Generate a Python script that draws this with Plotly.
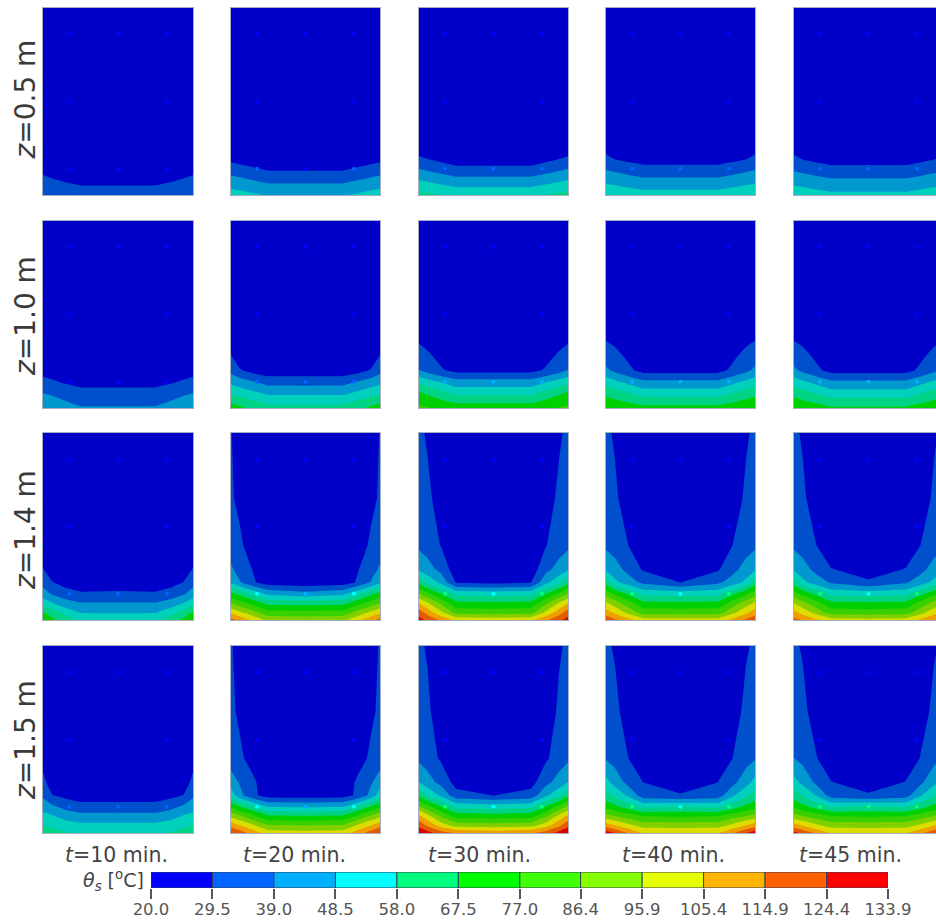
import numpy as np
import plotly.graph_objects as go

W, H = 936, 920
levels = [20.0, 29.5, 39.0, 48.5, 58.0, 67.5, 77.0, 86.4, 95.9, 105.4, 114.9, 124.4, 133.9]
level_labels = ["20.0", "29.5", "39.0", "48.5", "58.0", "67.5", "77.0", "86.4", "95.9", "105.4", "114.9", "124.4", "133.9"]
bar_colors = ["#0000FF", "#0064FF", "#00B0FF", "#00FFFF", "#00FF80", "#00FF00", "#40FF00",
              "#88FF00", "#E4FF00", "#FFB400", "#FF6000", "#FF0000"]
panel_colors = ["#0000C8", "#0050CE", "#0098CE", "#00D0BC", "#00D484", "#00D000", "#38D000",
                "#80D000", "#DCDC00", "#EEA000", "#E45A00", "#DC0000"]
times = ["10", "20", "30", "40", "45"]
heights = ["0.5", "1.0", "1.4", "1.5"]

# half-section nodes (mirrored about the centre line)
x_half = [0, .06, .15, .25, .5]
y_nodes = [0, .04, .09, .14, .20, .27, .40, .65, 1]
sensor_x = [.175, .5, .825, .175, .825, .175, .5, .825]
sensor_y = [.86, .86, .86, .5, .5, .14, .14, .14]

z05_t10 = [[37, 35.8, 33.8, 32, 32], [33, 32.3, 31.1, 30.2, 30.2], [30.3, 29.5, 28.2, 27, 27], [28, 27.3, 26.2, 25, 25],
           [24, 24, 23, 23, 23], [22, 22, 22, 22, 22], [21, 21, 21, 21, 21], [21, 21, 21, 21, 21], [20.5, 20.5, 20.5, 20.5, 20.5]]
z05_t20 = [[53, 51.7, 49.8, 47.7, 47.7], [47.5, 46.2, 44.2, 42, 42], [41, 39.6, 37.4, 35, 35], [34, 32.6, 30.5, 28.1, 28.1],
           [26, 25, 23.3, 21.5, 21.5], [22, 22, 22, 21, 21], [21, 21, 21, 21, 21], [21, 21, 21, 21, 21], [20.5, 20.5, 20.5, 20.5, 20.5]]
z05_t30 = [[61.5, 59.9, 57.6, 55, 55], [54.8, 53.3, 51.1, 48.7, 48.7], [46.9, 45.3, 42.9, 40.3, 40.3], [38.9, 37.2, 34.8, 32, 32],
           [30.2, 28.5, 25.9, 23, 23], [24, 23, 22, 22, 22], [21, 21, 21, 21, 21], [21, 21, 21, 21, 21], [20.5, 20.5, 20.5, 20.5, 20.5]]
z05_t40 = [[56, 55.3, 54.2, 53, 53], [51.5, 50.3, 48.5, 46.5, 46.5], [44, 42.9, 41.3, 39.5, 39.5], [38.3, 36.9, 34.7, 32.3, 32.3],
           [31.5, 28, 26, 24.5, 24.5], [24, 23, 22, 22, 22], [22, 21, 21, 21, 21], [21, 21, 21, 21, 21], [20.5, 20.5, 20.5, 20.5, 20.5]]
z05_t45 = [[54, 53.2, 51.9, 50.5, 50.5], [49.7, 48.7, 47.3, 45.7, 45.7], [43, 42, 40.5, 38.9, 38.9], [37.5, 36.2, 34.2, 32, 32],
           [31, 28, 26, 24.5, 24.5], [24, 23, 22, 22, 22], [22, 21, 21, 21, 21], [21, 21, 21, 21, 21], [20.5, 20.5, 20.5, 20.5, 20.5]]

z10_t10 = [[46, 44.6, 42.4, 40, 40], [43.6, 41.6, 38.7, 35.4, 35.4], [37.6, 36.4, 34.5, 32.4, 32.4], [32.5, 30.7, 28.1, 25.2, 25.2],
           [26, 25.3, 24.2, 23, 23], [23, 23, 22, 22, 22], [21, 21, 21, 21, 21], [21, 21, 21, 21, 21], [20.5, 20.5, 20.5, 20.5, 20.5]]
z10_t20 = [[72, 69.4, 65.4, 61, 61], [65, 62.3, 58.3, 53.8, 53.8], [54, 51.8, 48.5, 44.8, 44.8], [46, 43.4, 39.4, 35, 34.7],
           [36, 30.5, 26, 24, 24], [30.5, 24, 23, 22, 22], [23, 22, 21, 21, 21], [21, 21, 21, 21, 21], [20.5, 20.5, 20.5, 20.5, 20.5]]
z10_t30 = [[79, 77.5, 75.3, 72.8, 72.8], [74, 71.7, 68.2, 64.3, 64.3], [67.5, 64, 58.8, 53, 53], [55, 52, 47.6, 42.7, 42.7],
           [39.5, 35.5, 30.5, 27, 27], [34, 31.5, 27, 23, 23], [26, 24, 22, 21, 21], [22, 21, 21, 21, 21], [21, 20.5, 20.5, 20.5, 20.5]]
z10_t40 = [[76.5, 75, 72.8, 70.3, 70.3], [70.5, 68.5, 65.6, 62.3, 62.3], [62.9, 60.2, 56, 51.5, 51.5], [53.5, 50.5, 46, 41.1, 41.1],
           [41, 37, 31.5, 26.5, 26.5], [35, 33, 28, 23, 23], [27, 25, 22, 21, 21], [22, 22, 21, 21, 21], [21, 20.5, 20.5, 20.5, 20.5]]
z10_t45 = [[76, 74.3, 71.8, 69, 69], [70, 67.7, 64.4, 60.6, 60.6], [62.5, 59.6, 55.3, 50.5, 50.5], [53, 50, 45.5, 40.5, 40.5],
           [41, 37, 31.5, 26.5, 26.5], [35, 33, 28, 23, 23], [27, 25, 22, 21, 21], [22, 22, 21, 21, 21], [21, 20.5, 20.5, 20.5, 20.5]]

z14_t10 = [[72, 69.5, 63, 56, 54], [68.5, 63, 54, 48, 47.8], [54, 49, 43, 39.5, 39.7], [43.3, 38, 33.5, 30.7, 31],
           [36, 30, 26, 24, 25], [30, 25, 23, 22, 22], [24, 23, 21, 21, 21], [21, 21, 21, 21, 21], [20.5, 20.5, 20.5, 20.5, 20.5]]
z14_t20 = [[118, 112, 103, 93, 92], [103.5, 98, 89.7, 80.5, 80.2], [86.4, 81.1, 73.3, 64.5, 64], [71, 65, 56, 46, 42],
           [47.5, 40, 30.5, 25, 24], [41, 34, 29, 22.5, 22], [32, 31, 25, 22, 21], [30.5, 27.5, 22, 21, 20.5], [30, 24, 21, 20.5, 20]]
z14_t30 = [[128, 122, 113, 103, 102], [119.6, 110.8, 97.6, 83, 82], [105.4, 96.9, 84.2, 70, 69.5], [86.4, 78.9, 67.6, 55, 54],
           [65, 55, 46, 29, 27], [47, 43, 36, 24, 22], [37, 34, 29, 22, 21], [33, 31, 26, 21, 20.5], [31, 28.5, 22, 21, 20.5]]
z14_t40 = [[122, 116.7, 108.8, 100, 100], [110, 103.3, 93.2, 82, 82], [98, 91.3, 81.2, 70, 69.5], [82, 75.5, 65.8, 55, 54],
           [64, 51, 43.5, 37, 29.5], [47, 43, 36, 28.5, 23], [37, 34.5, 29.5, 22, 21], [32, 31, 25, 21, 20.5], [31, 28.5, 22, 21, 20.5]]
z14_t45 = [[118, 113.7, 107.2, 100, 99], [108, 101.8, 92.4, 82, 81], [96, 89.8, 80.4, 70, 69], [80, 74, 65, 55, 54],
           [63, 51, 44, 38, 31], [47, 43, 36, 30, 25], [37, 34.5, 29.5, 22, 21], [32, 31, 25, 21, 20.5], [31, 28.5, 22, 21, 20.5]]

z15_t10 = [[64, 62, 58.5, 57.5, 57], [58.5, 56, 53, 51, 51], [52, 49.5, 45, 42.5, 42.3], [44, 41, 36, 32.6, 32.6],
           [37.5, 30, 27, 25.5, 25.5], [32, 25, 23, 22, 22], [26, 23, 21, 21, 21], [21, 21, 21, 21, 21], [20.5, 20.5, 20.5, 20.5, 20.5]]
z15_t20 = [[125, 119.2, 110.6, 101, 100], [111.7, 105.9, 97.2, 87.5, 87], [94, 88, 79, 69, 68.5], [75, 68.5, 58.8, 48, 47.5],
           [54, 42, 31, 26, 25], [44, 38, 31, 24, 22], [34, 31, 26, 22, 21], [31, 28, 22, 21, 20.5], [30.5, 25, 21, 20.5, 20]]
z15_t30 = [[133, 128, 119, 114, 112], [122, 113, 101, 92, 91], [108, 99, 85, 73, 72], [88, 80, 68, 56, 54],
           [66, 56, 47, 33, 29.5], [49, 43, 36, 26, 23], [37, 34, 28, 22, 21], [32, 31, 24, 21, 20.5], [31, 28.5, 22, 21, 20.5]]
z15_t40 = [[130, 124, 114, 105, 104], [111, 106, 98.8, 92, 92], [90, 86.8, 82.4, 77, 76], [74, 70, 63, 56, 58],
           [62, 56, 47, 34, 30.5], [51.5, 45, 36, 29.5, 24], [38, 35, 29.5, 22, 21], [33, 32, 25, 21, 20.5], [31, 28.5, 22, 21, 20.5]]
z15_t45 = [[127, 122, 113, 105, 104], [110, 105, 98, 92, 92], [90, 86.8, 82, 77, 76], [75, 70.5, 64, 57, 59],
           [63, 57, 48, 35, 31], [52, 46, 37, 30, 24], [39, 36, 30, 22, 21], [33, 32, 25, 21, 20.5], [31, 28.5, 22, 21, 20.5]]

panels = [
    [z05_t10, z05_t20, z05_t30, z05_t40, z05_t45],
    [z10_t10, z10_t20, z10_t30, z10_t40, z10_t45],
    [z14_t10, z14_t20, z14_t30, z14_t40, z14_t45],
    [z15_t10, z15_t20, z15_t30, z15_t40, z15_t45],
]

# pixel geometry of the panels in the 936x920 picture
col_px = [(43, 193), (231, 380), (419, 568), (606, 755), (794, 943)]
row_px = [(8, 195), (221, 408), (433, 620), (646, 833)]
bar_px = (151, 888, 872, 888)
TEXT = "#555555"

x_full = x_half + [1 - v for v in x_half[-2::-1]]


def stepped(colors):
    out = []
    n = len(colors)
    for i, c in enumerate(colors):
        out += [[i / n, c], [(i + 1) / n, c]]
    return out


def bright_colour(v):
    i = int(np.clip(np.searchsorted(levels, v) - 1, 0, 11))
    return bar_colors[i]


fig = go.Figure(layout=dict(template="none"))
n = 0
for r, row in enumerate(panels):
    for c, half in enumerate(row):
        n += 1
        suffix = "" if n == 1 else str(n)
        z = np.array([h + h[-2::-1] for h in half], dtype=float)
        fig.add_trace(go.Contour(
            x=x_full, y=y_nodes, z=z, xaxis="x" + suffix, yaxis="y" + suffix,
            autocontour=False, zmin=levels[0], zmax=levels[-1],
            contours=dict(start=levels[0], end=levels[-1], size=(levels[-1] - levels[0]) / 12,
                          coloring="fill", showlines=False),
            line=dict(width=0, smoothing=0), colorscale=stepped(panel_colors), showscale=False, hoverinfo="skip",
        ))
        vals = []
        for sx, sy in zip(sensor_x, sensor_y):
            iy = int(np.argmin(np.abs(np.array(y_nodes) - sy)))
            vals.append(float(np.interp(sx, x_full, z[iy])))
        fig.add_trace(go.Scatter(
            x=sensor_x, y=sensor_y, mode="markers", xaxis="x" + suffix, yaxis="y" + suffix,
            marker=dict(size=4, color=[bright_colour(v) for v in vals], line=dict(width=0)),
            hoverinfo="skip", showlegend=False,
        ))
        x0, x1 = col_px[c]
        y0, y1 = row_px[r]
        xmax = min(1.0, (W - x0) / (x1 - x0))
        common = dict(showticklabels=False, ticks="", showgrid=False, zeroline=False, automargin=False,
                      showline=True, mirror=True, linecolor="#A4AEC0", linewidth=1)
        fig.update_layout(**{
            "xaxis" + suffix: dict(domain=[x0 / W, min(x1, W) / W], range=[0, xmax], anchor="y" + suffix, **common),
            "yaxis" + suffix: dict(domain=[1 - y1 / H, 1 - y0 / H], range=[0, 1], anchor="x" + suffix, **common),
        })

# colour bar, drawn as stacked bars between the level values
fig.add_trace(go.Bar(
    y=[0] * 12, x=np.diff(levels), base=levels[:-1], orientation="h", width=1,
    marker=dict(color=bar_colors, line=dict(color="#34405A", width=1)),
    xaxis="x21", yaxis="y21", hoverinfo="skip", showlegend=False,
))
fig.update_layout(
    barmode="overlay",
    xaxis21=dict(domain=[bar_px[0] / W, bar_px[1] / W], range=[levels[0], levels[-1]], anchor="y21",
                 tickmode="array", tickvals=levels, ticktext=level_labels, ticks="outside", ticklen=10,
                 ticklabelstandoff=-4,
                 tickwidth=2, tickcolor="#555566", tickfont=dict(size=16.5, color=TEXT, family="DejaVu Sans"),
                 showgrid=False, zeroline=False, showline=False, automargin=False),
    yaxis21=dict(domain=[1 - bar_px[3] / H, 1 - bar_px[2] / H], range=[-.5, .5], anchor="x21",
                 showticklabels=False, ticks="", showgrid=False, zeroline=False, automargin=False),
)

annotations = []
label_y = [99.5, 316, 530, 740]
for ly, h in zip(label_y, heights):
    annotations.append(dict(
        x=25 / W, y=1 - ly / H, xref="paper", yref="paper",
        text=f"<i>z</i>={h} m", textangle=-90, showarrow=False, xanchor="center", yanchor="middle",
        font=dict(size=28, color="#3A3A3A", family="DejaVu Sans"),
    ))
time_x = [116, 294, 480, 673, 850]
for tx, t in zip(time_x, times):
    annotations.append(dict(
        x=tx / W, y=1 - 855 / H, xref="paper", yref="paper", text=f"<i>t</i>={t} min.", showarrow=False,
        xanchor="center", yanchor="middle", font=dict(size=20.5, color="#444444", family="DejaVu Sans"),
    ))
annotations.append(dict(
    x=146 / W, y=1 - 880 / H, xref="paper", yref="paper", text="<i>θ<sub>s</sub></i> [<sup>o</sup>C]",
    showarrow=False, xanchor="right", yanchor="middle",
    font=dict(size=19, color="#444444", family="DejaVu Sans"),
))

fig.update_layout(width=W, height=H, margin=dict(l=0, r=0, t=0, b=0), paper_bgcolor="white",
                  plot_bgcolor="white", showlegend=False, annotations=annotations,
                  font=dict(family="DejaVu Sans"))
fig.write_html("out.html", config={"displayModeBar": False},
               post_script="document.body.style.margin='0';document.body.style.overflow='hidden';")
